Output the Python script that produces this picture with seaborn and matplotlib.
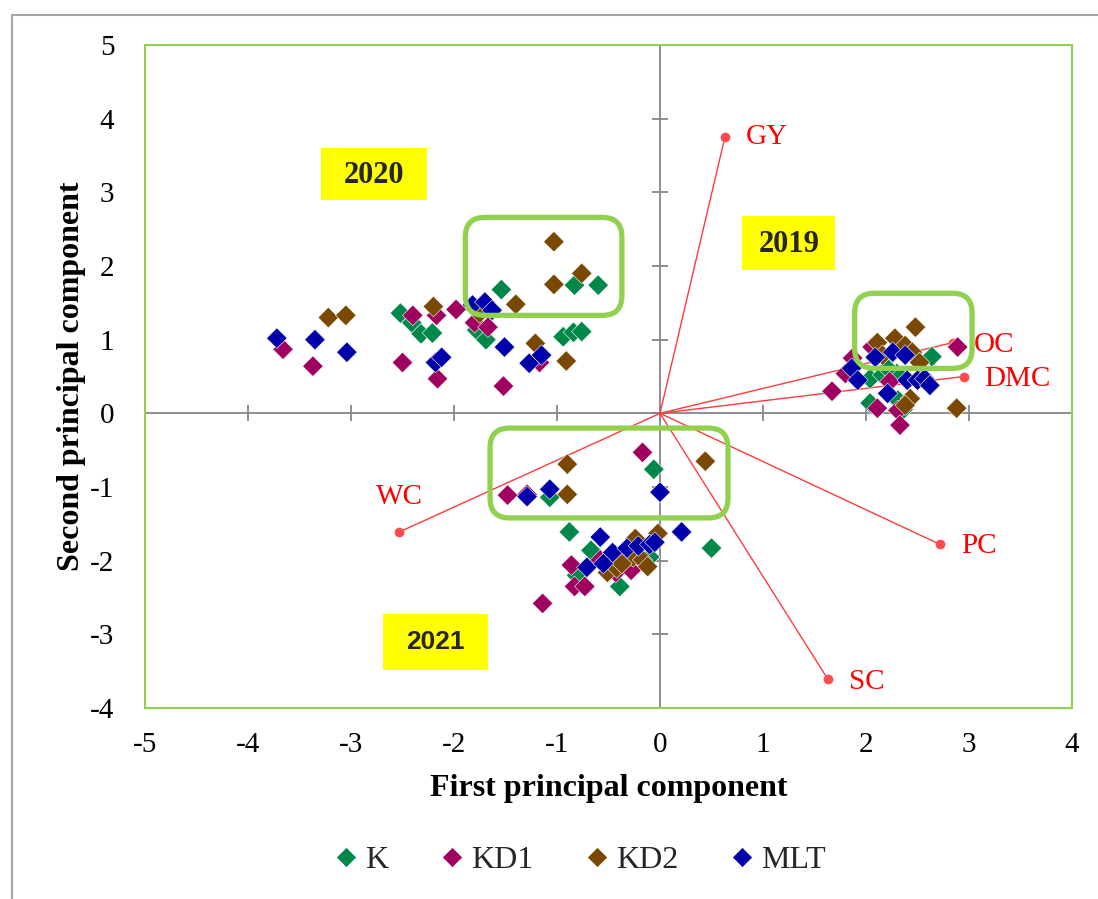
import numpy as np
import pandas as pd
import matplotlib
matplotlib.use('Agg')
import matplotlib.pyplot as plt
import seaborn as sns
from matplotlib.patches import FancyBboxPatch, Rectangle
from matplotlib.lines import Line2D

# ---------------- data ----------------
genotypes = ['K', 'KD1', 'KD2', 'MLT']
colors = ['#00884A', '#A0005F', '#7A4800', '#0000AA']

K_x = [-2.52, -2.41, -2.32, -2.21, -1.78, -1.69, -1.54, -0.94, -0.84, -0.76, -0.83, -0.60,
       2.64, 2.04, 2.16, 2.30, 2.04, 2.31, 2.36, 2.21,
       -0.06, -1.07, -0.88, 0.50, -0.67, -0.10, -0.81, -0.39]
K_y = [1.36, 1.23, 1.08, 1.09, 1.13, 1.00, 1.68, 1.04, 1.10, 1.11, 1.74, 1.74,
       0.77, 0.47, 0.52, 0.54, 0.14, 0.18, 0.05, 0.61,
       -0.76, -1.14, -1.61, -1.83, -1.86, -1.95, -2.20, -2.35]

KD1_x = [-3.66, -3.37, -2.50, -2.40, -2.17, -1.98, -2.16, -1.80, -1.67, -1.52, -1.17,
         2.89, 2.06, 1.87, 1.80, 2.23, 1.67, 2.11, 2.31, 2.33,
         -0.17, -1.48, -1.29, -0.86, -0.58, -0.83, -0.73, -0.43, -0.28, -1.14]
KD1_y = [0.87, 0.64, 0.69, 1.33, 1.33, 1.41, 0.47, 1.23, 1.17, 0.37, 0.69,
         0.90, 0.90, 0.75, 0.54, 0.43, 0.30, 0.07, 0.04, -0.16,
         -0.53, -1.11, -1.10, -2.06, -1.99, -2.35, -2.35, -2.16, -2.13, -2.58]

KD2_x = [-3.22, -3.05, -2.20, -1.75, -1.40, -1.21, -0.91, -1.03, -1.03, -0.76,
         2.48, 2.11, 2.28, 2.38, 2.45, 2.16, 2.52, 2.43, 2.38, 2.88,
         0.44, -0.90, -0.90, -0.02, -0.24, -0.26, -0.17, -0.12, -0.51, -0.42, -0.37]
KD2_y = [1.30, 1.33, 1.45, 1.36, 1.48, 0.95, 0.71, 2.33, 1.75, 1.90,
         1.17, 0.96, 1.02, 0.92, 0.83, 0.79, 0.69, 0.20, 0.11, 0.07,
         -0.65, -0.69, -1.10, -1.63, -1.70, -1.95, -1.99, -2.08, -2.16, -2.10, -2.04]

MLT_x = [-3.72, -3.35, -3.04, -2.18, -2.12, -1.82, -1.70, -1.63, -1.51, -1.27, -1.15,
         2.09, 2.26, 2.38, 1.86, 1.92, 2.40, 2.50, 2.57, 2.62, 2.21,
         -1.29, -1.07, 0.00, -0.58, 0.21, -0.46, -0.32, -0.21, -0.10, -0.05, -0.71, -0.55]
MLT_y = [1.02, 1.00, 0.83, 0.69, 0.76, 1.47, 1.51, 1.40, 0.90, 0.68, 0.79,
         0.76, 0.83, 0.79, 0.61, 0.45, 0.45, 0.45, 0.47, 0.38, 0.27,
         -1.13, -1.03, -1.07, -1.68, -1.61, -1.89, -1.83, -1.80, -1.78, -1.75, -2.09, -2.04]

loading_names = ['GY', 'OC', 'DMC', 'PC', 'SC', 'WC']
loading_x = [0.63, 2.84, 2.95, 2.72, 1.63, -2.53]
loading_y = [3.75, 0.96, 0.50, -1.78, -3.61, -1.61]

year_labels = ['2020', '2019', '2021']

xticks = [-5, -4, -3, -2, -1, 0, 1, 2, 3, 4]
yticks = [-4, -3, -2, -1, 0, 1, 2, 3, 4, 5]

# ---------------- frame ----------------
frames = []
for g, xs, ys in zip(genotypes, [K_x, KD1_x, KD2_x, MLT_x], [K_y, KD1_y, KD2_y, MLT_y]):
    frames.append(pd.DataFrame({'PC1': xs, 'PC2': ys, 'Genotype': g}))
df = pd.concat(frames, ignore_index=True)

sns.set_theme(style='white')
plt.rcParams['font.family'] = ['Liberation Serif', 'DejaVu Serif']
plt.rcParams['axes.unicode_minus'] = False

W, H = 1098, 899
fig = plt.figure(figsize=(W / 100, H / 100), dpi=100)
fig.patch.set_facecolor('white')

# outer chart border (left and top visible)
fig.add_artist(Rectangle((12 / W, -0.1), 1.2, 1.1 - 15 / H, transform=fig.transFigure,
                         fill=False, edgecolor='#A6A6A6', linewidth=1.5))

ax = fig.add_axes([145 / W, 1 - 708 / H, (1072 - 145) / W, (708 - 45) / H])
ax.set_xlim(-5, 4)
ax.set_ylim(-4, 5)

for s in ax.spines.values():
    s.set_color('#92D050')
    s.set_linewidth(1.5)

gray = '#868686'
ax.axhline(0, color=gray, lw=1.3, zorder=1)
ax.axvline(0, color=gray, lw=1.3, zorder=1)
ax.plot(xticks, [0] * len(xticks), ls='none', marker='|', ms=11, mew=1.3, color=gray, zorder=1)
ax.plot([0] * len(yticks), yticks, ls='none', marker='_', ms=11, mew=1.3, color=gray, zorder=1)

ax.set_xticks(xticks)
ax.set_yticks(yticks)
ax.set_xticklabels([str(t) for t in xticks])
ax.set_yticklabels([str(t) for t in yticks])
ax.tick_params(axis='both', length=0, labelsize=21, colors='black')
ax.tick_params(axis='x', pad=17)
ax.tick_params(axis='y', pad=22)

# loading vectors
red = '#FF0000'
offsets = {'GY': (15, 0, 'left', 'center'), 'OC': (15, -2, 'left', 'center'),
           'DMC': (15, -2, 'left', 'center'), 'PC': (15, -1, 'left', 'center'),
           'SC': (15, -2, 'left', 'center'), 'WC': (0, 25, 'center', 'center')}
for n, lx, ly in zip(loading_names, loading_x, loading_y):
    ax.plot([0, lx], [0, ly], color='#FF3B3B', lw=1.0, zorder=2)
    ax.plot([lx], [ly], marker='o', ms=6, color='#FF4B4B', zorder=2)
    dx, dy, ha, va = offsets[n]
    ax.annotate(n, (lx, ly), xytext=(dx, dy), textcoords='offset points', ha=ha, va=va,
                color=red, fontsize=21, zorder=5)

# scatter
sns.scatterplot(data=df, x='PC1', y='PC2', hue='Genotype', hue_order=genotypes,
                palette=colors, marker='D', s=110, edgecolor='white', linewidth=0.4,
                ax=ax, zorder=3, legend=True)
ax.set_xlabel('First principal component', fontsize=23, fontweight='bold', labelpad=12, color='black')
ax.set_ylabel('Second principal component', fontsize=23, fontweight='bold', labelpad=3, color='black')
ax.get_legend().remove()

# green rounded boxes
rx = 0.19
for (x0, y0, x1, y1) in [(-1.89, 1.33, -0.37, 2.66), (1.89, 0.61, 3.03, 1.63), (-1.65, -1.42, 0.66, -0.20)]:
    p = FancyBboxPatch((x0, y0), x1 - x0, y1 - y0, boxstyle=f'round,pad=0,rounding_size={rx}',
                       mutation_aspect=103 / 73.7, fill=False, edgecolor='#92D050', lw=3.8, zorder=4)
    ax.add_patch(p)

# year labels
boxes = [(-3.29, 2.90, -2.26, 3.60), (0.80, 1.94, 1.70, 2.68), (-2.69, -3.48, -1.67, -2.73)]
for lab, (x0, y0, x1, y1) in zip(year_labels, boxes):
    ax.add_patch(Rectangle((x0, y0), x1 - x0, y1 - y0, facecolor='#FFFF00', edgecolor='none', zorder=4))
    if lab == '2021':
        ax.text((x0 + x1) / 2, (y0 + y1) / 2, lab, ha='center', va='center', fontsize=19,
                fontweight='bold', family=['Liberation Sans', 'DejaVu Sans'], zorder=5)
    else:
        ax.text((x0 + x1) / 2, (y0 + y1) / 2 - 0.02, lab, ha='center', va='center', fontsize=22,
                fontweight='bold', zorder=5)

# legend
handles = [Line2D([], [], ls='none', marker='D', ms=10.5, color=c, mec='white', mew=0.4) for c in colors]
fig.legend(handles, genotypes, loc='center', bbox_to_anchor=(581 / W, 1 - 860 / H), ncol=4,
           frameon=False, fontsize=23, handlelength=0.6, handletextpad=0.3, columnspacing=1.7)

fig.savefig('out.png', dpi=100)
